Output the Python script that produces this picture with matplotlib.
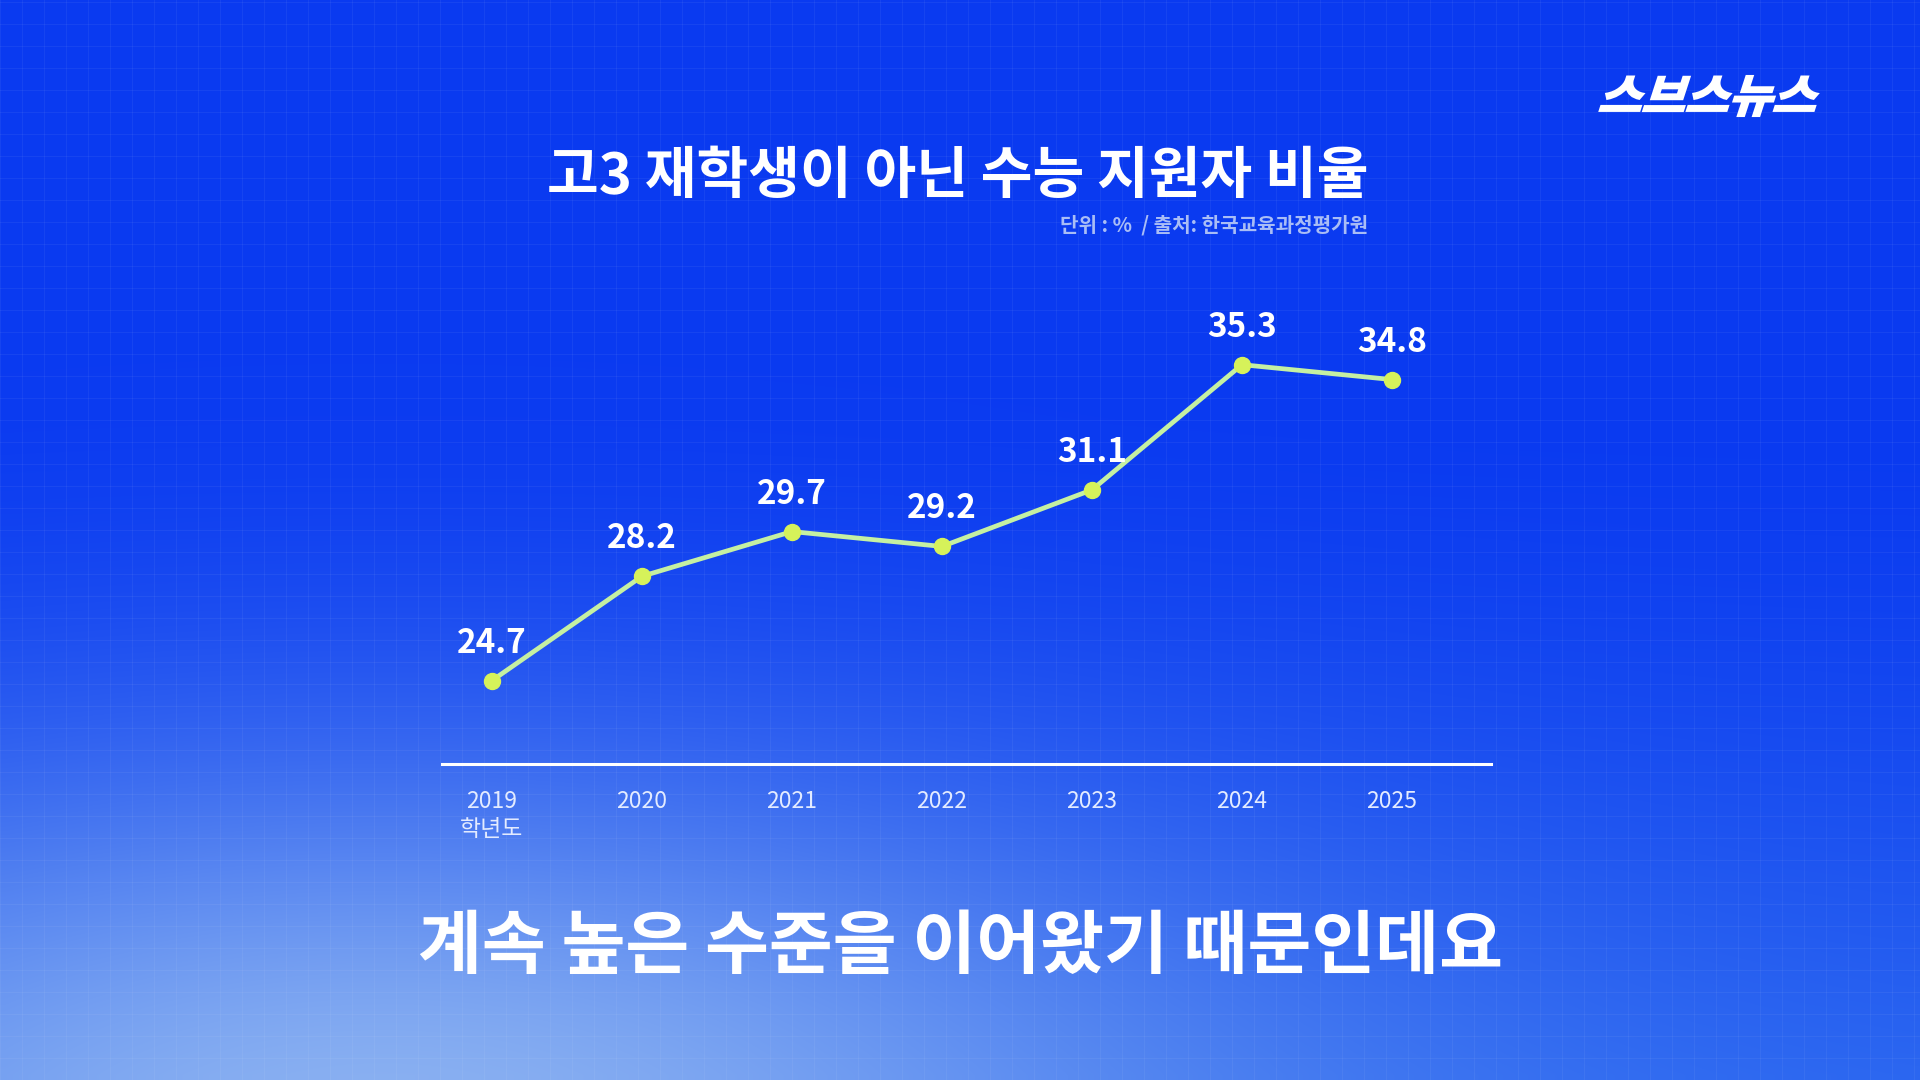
import numpy as np
import matplotlib.pyplot as plt
from matplotlib.textpath import TextPath
from matplotlib.patches import PathPatch
from matplotlib.font_manager import FontProperties
from matplotlib.transforms import Affine2D

plt.rcParams['font.family'] = ['Noto Sans CJK KR', 'DejaVu Sans']

# data
years = ['2019', '2020', '2021', '2022', '2023', '2024', '2025']
ratio = [24.7, 28.2, 29.7, 29.2, 31.1, 35.3, 34.8]

title = '고3 재학생이 아닌 수능 지원자 비율'
source = '단위 : %  / 출처: 한국교육과정평가원'
caption = '계속 높은 수준을 이어왔기 때문인데요'
logo = '스브스뉴스'

W, H = 1920, 1080
fig = plt.figure(figsize=(W / 100, H / 100), dpi=100)

# background: vivid blue with a pale glow toward the bottom-left
bg = fig.add_axes([0, 0, 1, 1])
bg.set_xlim(0, W)
bg.set_ylim(0, H)
bg.axis('off')
# gy measured from the top of the picture
gx, gy = np.meshgrid(np.linspace(0, W, 192), np.linspace(0, H, 108))
top = np.array([10, 58, 240]) / 255
light = np.array([140, 178, 242]) / 255
mid = np.array([40, 100, 240]) / 255
v = np.clip((gy - 420) / 660, 0, 1) ** 1.4
glow = np.exp(-(((gx - 380) / 850) ** 2 + ((gy - 1150) / 360) ** 2))
img = top * (1 - v[..., None]) + mid * v[..., None]
img = img * (1 - glow[..., None]) + light * glow[..., None]
bg.imshow(np.clip(img, 0, 1), extent=[0, W, 0, H], origin='upper',
          interpolation='bilinear', aspect='auto', zorder=0)
for gxl in np.arange(0, W, 22):
    bg.axvline(gxl, color='white', alpha=0.05, lw=0.8, zorder=1)
for gyl in np.arange(0, H, 22):
    bg.axhline(gyl, color='white', alpha=0.05, lw=0.8, zorder=1)

# logo (skewed bold lettering)
fp = FontProperties(family='Noto Sans CJK KR', weight='black')
tp = TextPath((0, 0), logo, size=44, prop=fp)
ext = tp.get_extents()
tr = Affine2D().translate(-ext.x0, -ext.y0).scale(214 / ext.width, 40 / ext.height) \
    .skew_deg(18, 0).translate(1598, H - 116)
bg.add_patch(PathPatch(tr.transform_path(tp), facecolor='white', edgecolor='white',
                       lw=1.5, zorder=3))

# texts
bg.text(958, H - 177, title, ha='center', va='center', color='white',
        fontsize=40.5, fontweight='bold', zorder=3)
bg.text(1368, H - 225, source, ha='right', va='center', color='#a9bdf6',
        fontsize=14.5, fontweight='bold', zorder=3)
bg.text(960, H - 948, caption, ha='center', va='center', color='white',
        fontsize=50, fontweight='bold', zorder=3)

# chart
ax_b, ax_t = 764, 200
ax = fig.add_axes([442 / W, 1 - ax_b / H, (1491 - 442) / W, (ax_b - ax_t) / H])
ax.set_facecolor('none')
x = np.arange(len(years))
ax.set_xlim(-50 / 150, 6 + 99 / 150)
ax.set_ylim(21.9, 21.9 + (ax_b - ax_t) / 29.8)
ax.plot(x, ratio, color='#c5f0a2', lw=3.4, zorder=3, solid_capstyle='round')
ax.plot(x, ratio, 'o', color='#d6f25a', markersize=11.5, zorder=4)
for xi, val in zip(x, ratio):
    ax.annotate(f'{val}', (xi, val), xytext=(0, 27), textcoords='offset points',
                ha='center', va='center', color='white', fontsize=24,
                fontweight='bold')

for s in ['top', 'right', 'left']:
    ax.spines[s].set_visible(False)
ax.spines['bottom'].set_color('white')
ax.spines['bottom'].set_linewidth(2.2)
ax.set_yticks([])
ax.set_xticks(x)
ax.set_xticklabels(years, color='#e3ebff', fontsize=16.5, fontweight='medium')
ax.tick_params(axis='x', length=0, pad=19)
bg.text(492, H - 830, '학년도', ha='center', va='center', color='#e3ebff',
        fontsize=16.5, fontweight='medium', zorder=3)

fig.savefig('out.png', dpi=100)
